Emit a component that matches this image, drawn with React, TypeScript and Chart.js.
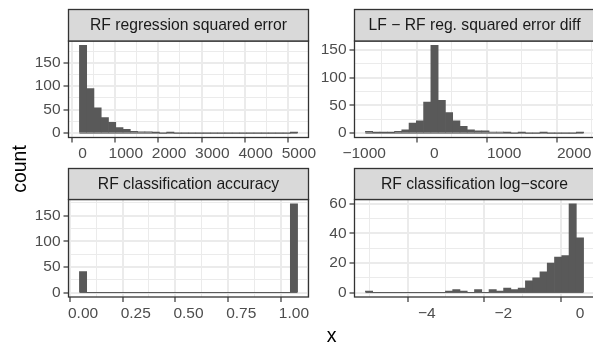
import React, { useEffect, useRef } from 'react';
import { Chart, registerables } from 'chart.js';

Chart.register(...registerables);

const FONT = '"Liberation Sans", Arial, Helvetica, sans-serif';

// ---------- Panel 1: RF regression squared error ----------
const regErrTitle = 'RF regression squared error';
const regErrBinStart = -71;
const regErrBinWidth = 168;
const regErrCounts = [187, 95, 54, 33, 23, 12, 8, 4, 3, 3, 1, 0, 1, 0, 0, 0, 0, 0, 0, 0, 0, 0, 0, 0, 0, 0, 0, 0, 0, 1];
const regErrXMajor = [0, 1000, 2000, 3000, 4000, 5000];
const regErrXMinor = [500, 1500, 2500, 3500, 4500];
const regErrYMajor = [0, 50, 100, 150];
const regErrYMinor = [25, 75, 125, 175];

// ---------- Panel 2: LF - RF reg. squared error diff ----------
const diffTitle = 'LF \u2212 RF reg. squared error diff';
const diffBinStart = -983;
const diffBinWidth = 103.9;
const diffCounts = [3, 1, 1, 1, 3, 6, 18, 22, 56, 158, 59, 37, 22, 12, 6, 4, 4, 2, 2, 1, 0, 1, 0, 0, 1, 0, 0, 0, 0, 1];
const diffXMajor = [-1000, 0, 1000, 2000];
const diffXMinor = [-500, 500, 1500];
const diffYMajor = [0, 50, 100, 150];
const diffYMinor = [25, 75, 125];

// ---------- Panel 3: RF classification accuracy ----------
const accTitle = 'RF classification accuracy';
const accBinStart = -1 / 58;
const accBinWidth = 1 / 29;
const accCounts = [41, 0, 0, 0, 0, 0, 0, 0, 0, 0, 0, 0, 0, 0, 0, 0, 0, 0, 0, 0, 0, 0, 0, 0, 0, 0, 0, 0, 0, 173];
const accXMajor = [0, 0.25, 0.5, 0.75, 1];
const accXMinor = [0.125, 0.375, 0.625, 0.875];
const accYMajor = [0, 50, 100, 150];
const accYMinor = [25, 75, 125, 175];

// ---------- Panel 4: RF classification log-score ----------
const logTitle = 'RF classification log\u2212score';
const logBinStart = -5.605;
const logBinWidth = 0.19;
const logCounts = [1, 0, 0, 0, 0, 0, 0, 0, 0, 0, 0, 1, 2, 1, 0, 2, 0, 2, 1, 3, 2, 3, 8, 10, 14, 20, 24, 25, 60, 37];
const logXMajor = [-4, -2, 0];
const logXMinor = [-5, -3, -1];
const logYMajor = [0, 20, 40, 60];
const logYMinor = [10, 30, 50];

const CW = 600;
const CH = 344;
const Y_W = 50;
const X_H = 30;

const fmtPlain = (v: number) => (v < 0 ? '\u2212' + String(Math.abs(v)) : String(v));
const fmt2 = (v: number) => v.toFixed(2);

const near = (arr: number[], v: number) => arr.some((a) => Math.abs(a - v) < 1e-9);

type PanelDef = {
  title: string;
  binStart: number;
  binWidth: number;
  counts: number[];
  xMajor: number[];
  xMinor: number[];
  yMajor: number[];
  yMinor: number[];
  fmtX: (v: number) => string;
  rect: { left: number; right: number; top: number; bottom: number; stripTop: number };
  titles?: boolean;
};

const panels: PanelDef[] = [
  {
    title: regErrTitle, binStart: regErrBinStart, binWidth: regErrBinWidth, counts: regErrCounts,
    xMajor: regErrXMajor, xMinor: regErrXMinor, yMajor: regErrYMajor, yMinor: regErrYMinor, fmtX: fmtPlain,
    rect: { left: 68.5, right: 308.5, top: 41, bottom: 137.5, stripTop: 9.5 }, titles: true,
  },
  {
    title: diffTitle, binStart: diffBinStart, binWidth: diffBinWidth, counts: diffCounts,
    xMajor: diffXMajor, xMinor: diffXMinor, yMajor: diffYMajor, yMinor: diffYMinor, fmtX: fmtPlain,
    rect: { left: 354.5, right: 594.5, top: 41, bottom: 137.5, stripTop: 9.5 },
  },
  {
    title: accTitle, binStart: accBinStart, binWidth: accBinWidth, counts: accCounts,
    xMajor: accXMajor, xMinor: accXMinor, yMajor: accYMajor, yMinor: accYMinor, fmtX: fmt2,
    rect: { left: 68.5, right: 308.5, top: 199.5, bottom: 297, stripTop: 168.5 },
  },
  {
    title: logTitle, binStart: logBinStart, binWidth: logBinWidth, counts: logCounts,
    xMajor: logXMajor, xMinor: logXMinor, yMajor: logYMajor, yMinor: logYMinor, fmtX: fmtPlain,
    rect: { left: 354.5, right: 594.5, top: 199.5, bottom: 297, stripTop: 168.5 },
  },
];

const panelDeco = {
  id: 'panelDeco',
  afterDatasetsDraw(chart: any, _args: any, opts: any) {
    // zero-height bins show as a thin line along the baseline of the histogram range
    const { ctx, scales } = chart;
    const y0 = scales.y.getPixelForValue(0);
    const xa = scales.x.getPixelForValue(opts.binLo);
    const xb = scales.x.getPixelForValue(opts.binHi);
    ctx.save();
    ctx.strokeStyle = '#595959';
    ctx.lineWidth = 1;
    ctx.beginPath();
    ctx.moveTo(xa, y0);
    ctx.lineTo(xb, y0);
    ctx.stroke();
    ctx.restore();
  },
  afterDraw(chart: any, _args: any, opts: any) {
    const { ctx, chartArea: a } = chart;
    ctx.save();
    // panel border
    ctx.strokeStyle = '#333333';
    ctx.lineWidth = 1.3;
    ctx.strokeRect(a.left, a.top, a.right - a.left, a.bottom - a.top);
    // strip
    ctx.fillStyle = '#D9D9D9';
    ctx.fillRect(a.left, opts.stripTop, a.right - a.left, a.top - opts.stripTop);
    ctx.strokeRect(a.left, opts.stripTop, a.right - a.left, a.top - opts.stripTop);
    ctx.fillStyle = '#1A1A1A';
    ctx.font = `15.7px ${FONT}`;
    ctx.textAlign = 'center';
    ctx.textBaseline = 'middle';
    ctx.fillText(opts.title, (a.left + a.right) / 2, (opts.stripTop + a.top) / 2 + 0.5);
    if (opts.titles) {
      ctx.fillStyle = '#000000';
      ctx.font = `19.5px ${FONT}`;
      ctx.textBaseline = 'alphabetic';
      ctx.textAlign = 'center';
      ctx.fillText('x', 331.5, 341.5);
      ctx.translate(25.5, 169);
      ctx.rotate(-Math.PI / 2);
      ctx.fillText('count', 0, 0);
    }
    ctx.restore();
  },
};

function makeChart(canvas: HTMLCanvasElement, p: PanelDef) {
  const nb = p.counts.length;
  const lo = p.binStart;
  const hi = p.binStart + nb * p.binWidth;
  const xPad = 0.05 * (hi - lo);
  const maxC = Math.max(...p.counts);
  const data = p.counts.map((c, i) => ({ x: p.binStart + (i + 0.5) * p.binWidth, y: c }));
  const xTicks = [...p.xMajor, ...p.xMinor].sort((a, b) => a - b);
  const yTicks = [...p.yMajor, ...p.yMinor].sort((a, b) => a - b);
  const r = p.rect;
  const tickFont = { family: FONT, size: 15.5 };

  return new Chart(canvas, {
    type: 'bar',
    data: {
      datasets: [
        {
          data: data as any,
          backgroundColor: '#595959',
          borderWidth: 0,
          barPercentage: 1,
          categoryPercentage: 1,
        },
      ],
    },
    options: {
      responsive: false,
      animation: false,
      events: [],
      layout: {
        padding: {
          left: r.left - Y_W,
          top: r.top,
          right: CW - r.right,
          bottom: CH - r.bottom - X_H,
        },
      },
      plugins: {
        legend: { display: false },
        tooltip: { enabled: false },
        panelDeco: { title: p.title, stripTop: r.stripTop, titles: !!p.titles, binLo: lo, binHi: hi },
      } as any,
      scales: {
        x: {
          type: 'linear',
          min: lo - xPad,
          max: hi + xPad,
          offset: false,
          afterBuildTicks: (s: any) => {
            s.ticks = xTicks.map((v) => ({ value: v }));
          },
          afterFit: (s: any) => {
            s.height = X_H;
          },
          ticks: {
            autoSkip: false,
            maxRotation: 0,
            minRotation: 0,
            padding: 2,
            color: '#4D4D4D',
            font: tickFont,
            callback: (v: any) => (near(p.xMajor, Number(v)) ? p.fmtX(Number(v)) : ''),
          },
          grid: {
            color: '#EBEBEB',
            lineWidth: (c: any) => (c.tick && near(p.xMajor, c.tick.value) ? 2 : 1),
            drawTicks: true,
            tickLength: 5,
            tickWidth: 1.2,
            tickColor: (c: any) => (c.tick && near(p.xMajor, c.tick.value) ? '#333333' : 'rgba(0,0,0,0)'),
          },
          border: { display: false },
        },
        y: {
          type: 'linear',
          min: -0.05 * maxC,
          max: 1.05 * maxC,
          afterBuildTicks: (s: any) => {
            s.ticks = yTicks.filter((v) => v <= 1.05 * maxC).map((v) => ({ value: v }));
          },
          afterFit: (s: any) => {
            s.width = Y_W;
          },
          ticks: {
            autoSkip: false,
            padding: 3,
            color: '#4D4D4D',
            font: tickFont,
            callback: (v: any) => (near(p.yMajor, Number(v)) ? fmtPlain(Number(v)) : ''),
          },
          grid: {
            color: '#EBEBEB',
            lineWidth: (c: any) => (c.tick && near(p.yMajor, c.tick.value) ? 2 : 1),
            drawTicks: true,
            tickLength: 5,
            tickWidth: 1.2,
            tickColor: (c: any) => (c.tick && near(p.yMajor, c.tick.value) ? '#333333' : 'rgba(0,0,0,0)'),
          },
          border: { display: false },
        },
      },
    },
    plugins: [panelDeco as any],
  });
}

export default function App() {
  const refs = [useRef<HTMLCanvasElement>(null), useRef<HTMLCanvasElement>(null), useRef<HTMLCanvasElement>(null), useRef<HTMLCanvasElement>(null)];

  useEffect(() => {
    const charts = panels.map((p, i) => makeChart(refs[i].current as HTMLCanvasElement, p));
    return () => charts.forEach((c) => c.destroy());
  }, []);

  return (
    <div
      style={{
        position: 'fixed',
        left: 0,
        top: 0,
        width: 593,
        height: 344,
        overflow: 'hidden',
        background: '#FFFFFF',
      }}
    >
      {panels.map((p, i) => (
        <canvas
          key={p.title}
          ref={refs[i]}
          width={CW}
          height={CH}
          style={{ position: 'absolute', left: 0, top: 0, width: CW, height: CH }}
        />
      ))}
    </div>
  );
}
